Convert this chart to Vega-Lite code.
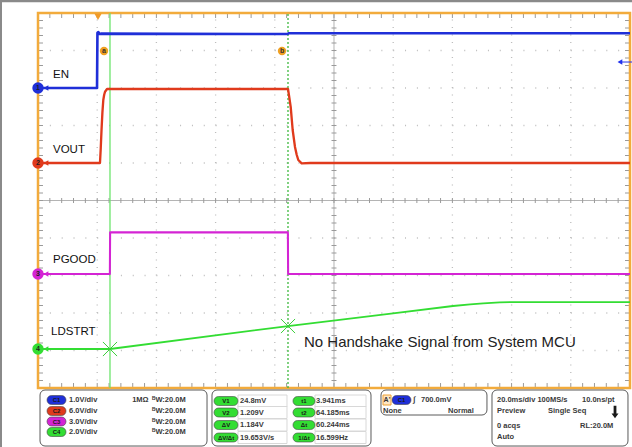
{
"$schema":"https://vega.github.io/schema/vega-lite/v6.json",
"width":632,"height":447,"autosize":{"type":"none"},"padding":0,"background":"#ffffff",
"config":{"view":{"stroke":null},"text":{"font":"Liberation Sans"}},
"datasets":{
"sig":[
{"s":"C1","x":0,"y":8.0},{"s":"C1","x":0.997,"y":8.0},{"s":"C1","x":1.004,"y":9.47},{"s":"C1","x":1.02,"y":9.49},{"s":"C1","x":1.035,"y":9.44},{"s":"C1","x":1.06,"y":9.45},{"s":"C1","x":4.22,"y":9.44},{"s":"C1","x":4.23,"y":9.46},{"s":"C1","x":10,"y":9.46},
{"s":"C2","x":0,"y":6.0},{"s":"C2","x":1.047,"y":6.0},{"s":"C2","x":1.06,"y":6.4},{"s":"C2","x":1.073,"y":6.88},{"s":"C2","x":1.088,"y":7.35},{"s":"C2","x":1.103,"y":7.68},{"s":"C2","x":1.118,"y":7.82},{"s":"C2","x":1.132,"y":7.9},{"s":"C2","x":1.166,"y":7.973},{"s":"C2","x":4.223,"y":7.973},{"s":"C2","x":4.24,"y":7.8},{"s":"C2","x":4.269,"y":7.49},{"s":"C2","x":4.302,"y":6.88},{"s":"C2","x":4.341,"y":6.43},{"s":"C2","x":4.37,"y":6.22},{"s":"C2","x":4.397,"y":6.08},{"s":"C2","x":4.454,"y":5.99},{"s":"C2","x":4.6,"y":6.0},{"s":"C2","x":10,"y":6.0},
{"s":"C3","x":0,"y":3.04},{"s":"C3","x":1.214,"y":3.04},{"s":"C3","x":1.218,"y":4.15},{"s":"C3","x":4.221,"y":4.15},{"s":"C3","x":4.225,"y":3.04},{"s":"C3","x":10,"y":3.04},
{"s":"C4","x":0,"y":1.04},{"s":"C4","x":1.216,"y":1.04},{"s":"C4","x":4.223,"y":1.653},{"s":"C4","x":5.997,"y":1.99},{"s":"C4","x":7.01,"y":2.187},{"s":"C4","x":7.3,"y":2.23},{"s":"C4","x":7.52,"y":2.255},{"s":"C4","x":7.8,"y":2.285},{"s":"C4","x":8.14,"y":2.293},{"s":"C4","x":10,"y":2.293}
],
"minor":[{"v":0.2},{"v":0.4},{"v":0.6},{"v":0.8},{"v":1},{"v":1.2},{"v":1.4},{"v":1.6},{"v":1.8},{"v":2},{"v":2.2},{"v":2.4},{"v":2.6},{"v":2.8},{"v":3},{"v":3.2},{"v":3.4},{"v":3.6},{"v":3.8},{"v":4},{"v":4.2},{"v":4.4},{"v":4.6},{"v":4.8},{"v":5},{"v":5.2},{"v":5.4},{"v":5.6},{"v":5.8},{"v":6},{"v":6.2},{"v":6.4},{"v":6.6},{"v":6.8},{"v":7},{"v":7.2},{"v":7.4},{"v":7.6},{"v":7.8},{"v":8},{"v":8.2},{"v":8.4},{"v":8.6},{"v":8.8},{"v":9},{"v":9.2},{"v":9.4},{"v":9.6},{"v":9.8}],
"grid":[{"v":1},{"v":2},{"v":3},{"v":4},{"v":6},{"v":7},{"v":8},{"v":9}],
"labels":[{"x":0.253,"y":8.35,"t":"EN"},{"x":0.253,"y":6.347,"t":"VOUT"},{"x":0.253,"y":3.413,"t":"PGOOD"},{"x":0.22,"y":1.493,"t":"LDSTRT"}],
"chm":[{"x":0,"y":8.0,"s":"C1","t":"1"},{"x":0,"y":6.0,"s":"C2","t":"2"},{"x":0,"y":3.04,"s":"C3","t":"3"},{"x":0,"y":1.04,"s":"C4","t":"4"}],
"boxes":[{"x":0.034,"x2":2.855,"y":-0.053,"y2":-1.547},{"x":2.939,"x2":5.625,"y":-0.053,"y2":-1.547},{"x":5.794,"x2":7.584,"y":-0.053,"y2":-0.72},{"x":7.669,"x2":9.966,"y":-0.053,"y2":-1.547}],
"cells":[
{"x":3.378,"x2":4.206,"y":-0.187,"y2":-0.507},{"x":3.378,"x2":4.206,"y":-0.493,"y2":-0.813},{"x":3.378,"x2":4.206,"y":-0.827,"y2":-1.147},{"x":3.378,"x2":4.206,"y":-1.16,"y2":-1.48},
{"x":4.679,"x2":5.541,"y":-0.187,"y2":-0.507},{"x":4.679,"x2":5.541,"y":-0.493,"y2":-0.813},{"x":4.679,"x2":5.541,"y":-0.827,"y2":-1.147},{"x":4.679,"x2":5.541,"y":-1.16,"y2":-1.48}],
"pills":[
{"x":0.152,"x2":0.473,"y":-0.2,"y2":-0.44,"s":"C1"},{"x":0.152,"x2":0.473,"y":-0.493,"y2":-0.733,"s":"C2"},{"x":0.152,"x2":0.473,"y":-0.773,"y2":-1.013,"s":"C3"},{"x":0.152,"x2":0.473,"y":-1.053,"y2":-1.293,"s":"C4"},
{"x":2.973,"x2":3.378,"y":-0.227,"y2":-0.467,"s":"C4"},{"x":2.973,"x2":3.378,"y":-0.533,"y2":-0.773,"s":"C4"},{"x":2.973,"x2":3.378,"y":-0.867,"y2":-1.107,"s":"C4"},{"x":2.973,"x2":3.378,"y":-1.2,"y2":-1.44,"s":"C4"},
{"x":4.307,"x2":4.679,"y":-0.227,"y2":-0.467,"s":"C4"},{"x":4.307,"x2":4.679,"y":-0.533,"y2":-0.773,"s":"C4"},{"x":4.307,"x2":4.679,"y":-0.867,"y2":-1.107,"s":"C4"},{"x":4.307,"x2":4.679,"y":-1.2,"y2":-1.44,"s":"C4"},
{"x":5.98,"x2":6.301,"y":-0.2,"y2":-0.44,"s":"C1"}],
"pilltext":[
{"x":0.3125,"y":-0.32,"t":"C1"},{"x":0.3125,"y":-0.613,"t":"C2"},{"x":0.3125,"y":-0.893,"t":"C3"},{"x":0.3125,"y":-1.173,"t":"C4"},
{"x":3.176,"y":-0.347,"t":"V1"},{"x":3.176,"y":-0.653,"t":"V2"},{"x":3.176,"y":-0.987,"t":"ΔV"},{"x":3.176,"y":-1.32,"t":"ΔV/Δt"},
{"x":4.493,"y":-0.347,"t":"t1"},{"x":4.493,"y":-0.653,"t":"t2"},{"x":4.493,"y":-0.987,"t":"Δt"},{"x":4.493,"y":-1.32,"t":"1/Δt"},
{"x":6.14,"y":-0.32,"t":"C1"}],
"ptext":[
{"x":0.524,"y":-0.32,"t":"1.0V/div"},{"x":0.524,"y":-0.613,"t":"6.0V/div"},{"x":0.524,"y":-0.893,"t":"3.0V/div"},{"x":0.524,"y":-1.173,"t":"2.0V/div"},
{"x":1.59,"y":-0.32,"t":"1MΩ"},
{"x":1.926,"y":-0.32,"t":"ᴮW:20.0M"},{"x":1.926,"y":-0.613,"t":"ᴮW:20.0M"},{"x":1.926,"y":-0.893,"t":"ᴮW:20.0M"},{"x":1.926,"y":-1.173,"t":"ᴮW:20.0M"},
{"x":3.412,"y":-0.347,"t":"24.8mV"},{"x":3.412,"y":-0.653,"t":"1.209V"},{"x":3.412,"y":-0.987,"t":"1.184V"},{"x":3.412,"y":-1.32,"t":"19.653V/s"},
{"x":4.696,"y":-0.347,"t":"3.941ms"},{"x":4.696,"y":-0.653,"t":"64.185ms"},{"x":4.696,"y":-0.987,"t":"60.244ms"},{"x":4.696,"y":-1.32,"t":"16.599Hz"},
{"x":6.334,"y":-0.32,"t":"∫"},{"x":6.47,"y":-0.32,"t":"700.0mV"},{"x":5.828,"y":-0.613,"t":"None"},{"x":6.926,"y":-0.613,"t":"Normal"},
{"x":7.753,"y":-0.32,"t":"20.0ms/div 100MS/s"},{"x":9.189,"y":-0.32,"t":"10.0ns/pt"},
{"x":7.753,"y":-0.613,"t":"Preview"},{"x":8.615,"y":-0.613,"t":"Single Seq"},
{"x":7.753,"y":-1.013,"t":"0 acqs"},{"x":9.155,"y":-1.013,"t":"RL:20.0M"},
{"x":7.753,"y":-1.307,"t":"Auto"}]
},
"layer":[
{"data":{"name":"sig"},"mark":{"type":"line","strokeJoin":"round","opacity":0},"encoding":{
"x":{"field":"x","type":"quantitative","scale":{"domain":[-0.642,10.034],"nice":false,"zero":false},"axis":null},
"y":{"field":"y","type":"quantitative","scale":{"domain":[-1.573,10.347],"nice":false,"zero":false},"axis":null},
"detail":{"field":"s"}}},
{"data":{"values":[{}]},"mark":{"type":"rule","color":"#8a8a8a","strokeWidth":2.5},"encoding":{"x":{"datum":-0.642,"axis":null},"x2":{"datum":10.034},"y":{"datum":10.32,"axis":null}}},
{"data":{"values":[{}]},"mark":{"type":"rule","color":"#8a8a8a","strokeWidth":2},"encoding":{"x":{"datum":-0.625,"axis":null},"y":{"datum":-1.573,"axis":null},"y2":{"datum":10.347}}},
{"data":{"name":"grid"},"mark":{"type":"rule","color":"#bdbdbd","strokeWidth":1.3,"strokeDash":[1,10.84]},"encoding":{"y":{"field":"v","type":"quantitative","axis":null},"x":{"datum":0,"axis":null},"x2":{"datum":10}}},
{"data":{"name":"grid"},"mark":{"type":"rule","color":"#bdbdbd","strokeWidth":1.3,"strokeDash":[1,6.5]},"encoding":{"x":{"field":"v","type":"quantitative","axis":null},"y":{"datum":0,"axis":null},"y2":{"datum":10}}},
{"data":{"values":[{}]},"mark":{"type":"rule","color":"#b4b4b4","strokeWidth":1},"encoding":{"y":{"datum":5,"axis":null},"x":{"datum":0,"axis":null},"x2":{"datum":10}}},
{"data":{"values":[{}]},"mark":{"type":"rule","color":"#b4b4b4","strokeWidth":1},"encoding":{"x":{"datum":5,"axis":null},"y":{"datum":0,"axis":null},"y2":{"datum":10}}},
{"data":{"name":"minor"},"mark":{"type":"rule","color":"#9a9a9a","strokeWidth":1},"encoding":{"x":{"field":"v","type":"quantitative","axis":null},"y":{"datum":4.933,"axis":null},"y2":{"datum":5.067}}},
{"data":{"name":"minor"},"mark":{"type":"rule","color":"#9a9a9a","strokeWidth":1},"encoding":{"y":{"field":"v","type":"quantitative","axis":null},"x":{"datum":4.958,"axis":null},"x2":{"datum":5.042}}},
{"data":{"name":"minor"},"mark":{"type":"rule","color":"#9a9a9a","strokeWidth":1},"encoding":{"x":{"field":"v","type":"quantitative","axis":null},"y":{"datum":10,"axis":null},"y2":{"datum":9.867}}},
{"data":{"name":"minor"},"mark":{"type":"rule","color":"#9a9a9a","strokeWidth":1},"encoding":{"x":{"field":"v","type":"quantitative","axis":null},"y":{"datum":0,"axis":null},"y2":{"datum":0.133}}},
{"data":{"name":"minor"},"mark":{"type":"rule","color":"#9a9a9a","strokeWidth":1},"encoding":{"y":{"field":"v","type":"quantitative","axis":null},"x":{"datum":0,"axis":null},"x2":{"datum":0.084}}},
{"data":{"name":"minor"},"mark":{"type":"rule","color":"#9a9a9a","strokeWidth":1},"encoding":{"y":{"field":"v","type":"quantitative","axis":null},"x":{"datum":10,"axis":null},"x2":{"datum":9.916}}},
{"data":{"values":[{}]},"mark":{"type":"rect","filled":false,"stroke":"#f2ab3c","strokeWidth":2.5},"encoding":{"x":{"datum":0,"axis":null},"x2":{"datum":10},"y":{"datum":0,"axis":null},"y2":{"datum":10}}},
{"data":{"values":[{}]},"mark":{"type":"rule","color":"#6ce46c","strokeWidth":1.3},"encoding":{"x":{"datum":1.216,"axis":null},"y":{"datum":0,"axis":null},"y2":{"datum":10}}},
{"data":{"values":[{}]},"mark":{"type":"rule","color":"#2eb42e","strokeWidth":1.2,"strokeDash":[2,2]},"encoding":{"x":{"datum":4.223,"axis":null},"y":{"datum":0,"axis":null},"y2":{"datum":10}}},
{"data":{"name":"sig"},"mark":{"type":"line","strokeJoin":"round"},"encoding":{"x":{"field":"x","type":"quantitative","axis":null},"y":{"field":"y","type":"quantitative","axis":null},"color":{"field":"s","type":"nominal","scale":{"domain":["C1","C2","C3","C4"],"range":["#1f2fd8","#e03a1c","#d424d4","#33dd33"]},"legend":null},"strokeWidth":{"field":"s","type":"ordinal","scale":{"domain":["C1","C2","C3","C4"],"range":[2.6,1.8,2.6,2]},"legend":null}}},
{"data":{"values":[{"x":1.216,"y":1.04},{"x":4.223,"y":1.653}]},"mark":{"type":"point","shape":"M-1,-1L1,1M-1,1L1,-1","size":200,"filled":false,"stroke":"#3ccf3c","strokeWidth":1,"opacity":1},"encoding":{"x":{"field":"x","type":"quantitative","axis":null},"y":{"field":"y","type":"quantitative","axis":null}}},
{"data":{"name":"chm"},"mark":{"type":"point","shape":"triangle-left","filled":true,"size":30,"xOffset":8,"opacity":1},"encoding":{"x":{"field":"x","type":"quantitative","axis":null},"y":{"field":"y","type":"quantitative","axis":null},"color":{"field":"s","type":"nominal","legend":null}}},
{"data":{"name":"chm"},"mark":{"type":"point","shape":"circle","filled":true,"size":130,"opacity":1},"encoding":{"x":{"field":"x","type":"quantitative","axis":null},"y":{"field":"y","type":"quantitative","axis":null},"color":{"field":"s","type":"nominal","legend":null}}},
{"data":{"name":"chm"},"mark":{"type":"text","fontSize":7,"fontWeight":"bold","color":"#222222","align":"center","baseline":"middle"},"encoding":{"x":{"field":"x","type":"quantitative","axis":null},"y":{"field":"y","type":"quantitative","axis":null},"text":{"field":"t"}}},
{"data":{"values":[{"x":1.115,"y":8.987,"t":"a"},{"x":4.122,"y":8.987,"t":"b"}]},"mark":{"type":"point","shape":"circle","filled":true,"size":70,"color":"#f0a020","opacity":1},"encoding":{"x":{"field":"x","type":"quantitative","axis":null},"y":{"field":"y","type":"quantitative","axis":null}}},
{"data":{"values":[{"x":1.115,"y":8.987,"t":"a"},{"x":4.122,"y":8.987,"t":"b"}]},"mark":{"type":"text","fontSize":7,"fontWeight":"bold","color":"#333333","align":"center","baseline":"middle"},"encoding":{"x":{"field":"x","type":"quantitative","axis":null},"y":{"field":"y","type":"quantitative","axis":null},"text":{"field":"t"}}},
{"data":{"values":[{"x":1.014,"y":9.9}]},"mark":{"type":"point","shape":"triangle-down","filled":true,"size":55,"color":"#f09a28","opacity":1},"encoding":{"x":{"field":"x","type":"quantitative","axis":null},"y":{"field":"y","type":"quantitative","axis":null}}},
{"data":{"values":[{"x":9.83,"y":8.693}]},"mark":{"type":"point","shape":"triangle-left","filled":true,"size":30,"color":"#2233ee","opacity":1},"encoding":{"x":{"field":"x","type":"quantitative","axis":null},"y":{"field":"y","type":"quantitative","axis":null}}},
{"data":{"values":[{}]},"mark":{"type":"rule","color":"#2233ee","strokeWidth":1},"encoding":{"x":{"datum":9.83,"axis":null},"x2":{"datum":10.034},"y":{"datum":8.693,"axis":null}}},
{"data":{"name":"labels"},"mark":{"type":"text","fontSize":11.5,"color":"#111111","align":"left","baseline":"middle"},"encoding":{"x":{"field":"x","type":"quantitative","axis":null},"y":{"field":"y","type":"quantitative","axis":null},"text":{"field":"t"}}},
{"data":{"values":[{"x":4.493,"y":1.227,"t":"No Handshake Signal from System MCU"}]},"mark":{"type":"text","fontSize":15,"color":"#222222","align":"left","baseline":"middle"},"encoding":{"x":{"field":"x","type":"quantitative","axis":null},"y":{"field":"y","type":"quantitative","axis":null},"text":{"field":"t"}}},
{"data":{"name":"boxes"},"mark":{"type":"rect","fill":"#ffffff","stroke":"#5a5a5a","strokeWidth":1,"cornerRadius":5},"encoding":{"x":{"field":"x","type":"quantitative","axis":null},"y":{"field":"y","type":"quantitative","axis":null},"x2":{"field":"x2"},"y2":{"field":"y2"}}},
{"data":{"name":"cells"},"mark":{"type":"rect","fill":"#ffffff","stroke":"#d8d8d8","strokeWidth":1},"encoding":{"x":{"field":"x","type":"quantitative","axis":null},"y":{"field":"y","type":"quantitative","axis":null},"x2":{"field":"x2"},"y2":{"field":"y2"}}},
{"data":{"name":"pills"},"mark":{"type":"rect","cornerRadius":4.5,"stroke":"#444444","strokeWidth":0.6,"opacity":1},"encoding":{"x":{"field":"x","type":"quantitative","axis":null},"y":{"field":"y","type":"quantitative","axis":null},"x2":{"field":"x2"},"y2":{"field":"y2"},"color":{"field":"s","type":"nominal","legend":null}}},
{"data":{"name":"pilltext"},"mark":{"type":"text","fontSize":6,"fontWeight":"bold","color":"#1a1a1a","align":"center","baseline":"middle"},"encoding":{"x":{"field":"x","type":"quantitative","axis":null},"y":{"field":"y","type":"quantitative","axis":null},"text":{"field":"t"}}},
{"data":{"values":[{}]},"mark":{"type":"rect","fill":"#fde6c4","stroke":"#f0a030","strokeWidth":1},"encoding":{"x":{"datum":5.828,"axis":null},"x2":{"datum":5.963},"y":{"datum":-0.187,"axis":null},"y2":{"datum":-0.453}}},
{"data":{"values":[{"x":5.895,"y":-0.32,"t":"A'"}]},"mark":{"type":"text","fontSize":7,"fontWeight":"bold","color":"#333333","align":"center","baseline":"middle"},"encoding":{"x":{"field":"x","type":"quantitative","axis":null},"y":{"field":"y","type":"quantitative","axis":null},"text":{"field":"t"}}},
{"data":{"name":"ptext"},"mark":{"type":"text","fontSize":7.5,"fontWeight":"bold","color":"#3a3a3a","align":"left","baseline":"middle"},"encoding":{"x":{"field":"x","type":"quantitative","axis":null},"y":{"field":"y","type":"quantitative","axis":null},"text":{"field":"t"}}},
{"data":{"values":[{"x":9.747,"y":-0.64}]},"mark":{"type":"point","shape":"M-0.22,-1L0.22,-1L0.22,0.25L0.55,0.25L0,1L-0.55,0.25L-0.22,0.25Z","size":160,"filled":true,"color":"#1a1a1a","opacity":1},"encoding":{"x":{"field":"x","type":"quantitative","axis":null},"y":{"field":"y","type":"quantitative","axis":null}}}
]
}
